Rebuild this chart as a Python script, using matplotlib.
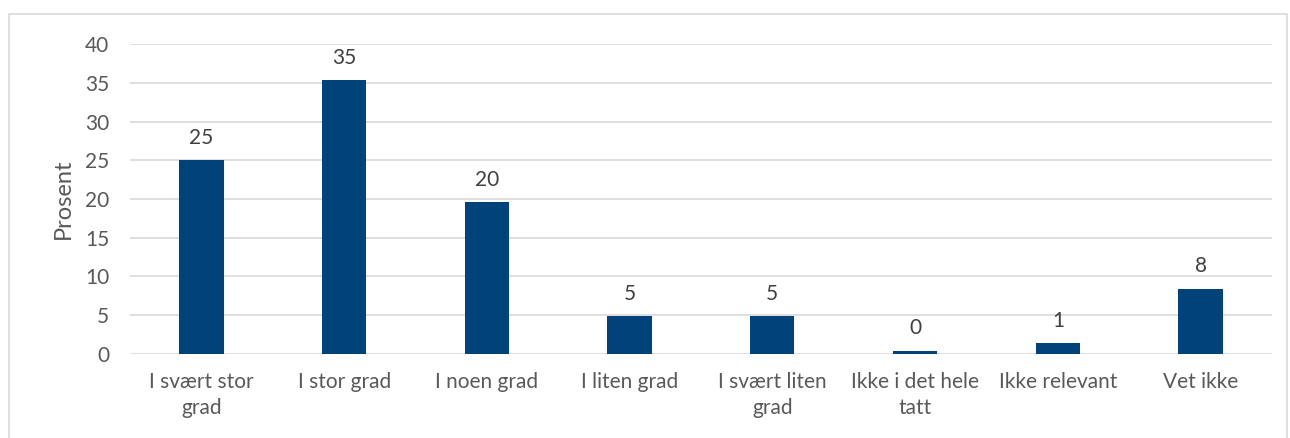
import matplotlib.pyplot as plt
from matplotlib.patches import Rectangle

categories = ['I svært stor\ngrad', 'I stor grad', 'I noen grad', 'I liten grad',
              'I svært liten\ngrad', 'Ikke i det hele\ntatt', 'Ikke relevant', 'Vet ikke']
values = [25.0, 35.3, 19.6, 4.9, 4.9, 0.4, 1.4, 8.4]
labels = ['25', '35', '20', '5', '5', '0', '1', '8']
yticks = [0, 5, 10, 15, 20, 25, 30, 35, 40]

text_col = '#595959'
plt.rcParams['font.family'] = ['Lato', 'DejaVu Sans']

fig = plt.figure(figsize=(12.9, 4.38), dpi=100)
ax = fig.add_axes([0.1008, 0.1918, 0.8852, 0.7077])

x = range(len(categories))
ax.bar(x, values, width=0.31, color='#00437A', zorder=3)

for xi, v, lab in zip(x, values, labels):
    ax.annotate(lab, (xi, v), xytext=(0, 9), textcoords='offset points',
                ha='center', va='bottom', fontsize=15, color='#404040')

ax.set_xlim(-0.5, len(categories) - 0.5)
ax.set_ylim(0, 40)
ax.set_yticks(yticks)
ax.set_xticks(list(x))
ax.set_xticklabels(categories, fontsize=15, color=text_col, linespacing=1.35)
ax.tick_params(axis='y', labelsize=15, labelcolor=text_col, length=0, pad=15)
ax.tick_params(axis='x', length=0, pad=13)
ax.set_ylabel('Prosent', fontsize=17, color=text_col, labelpad=8)

ax.yaxis.grid(True, color='#D9D9D9', linewidth=1.2, zorder=0)
for s in ax.spines.values():
    s.set_visible(False)

fig.patches.append(Rectangle((9 / 1290, -0.05), 1278 / 1290, 0.05 + 424 / 438,
                             transform=fig.transFigure, fill=False,
                             edgecolor='#D9D9D9', linewidth=1.2))

fig.savefig('out.png', dpi=100)
